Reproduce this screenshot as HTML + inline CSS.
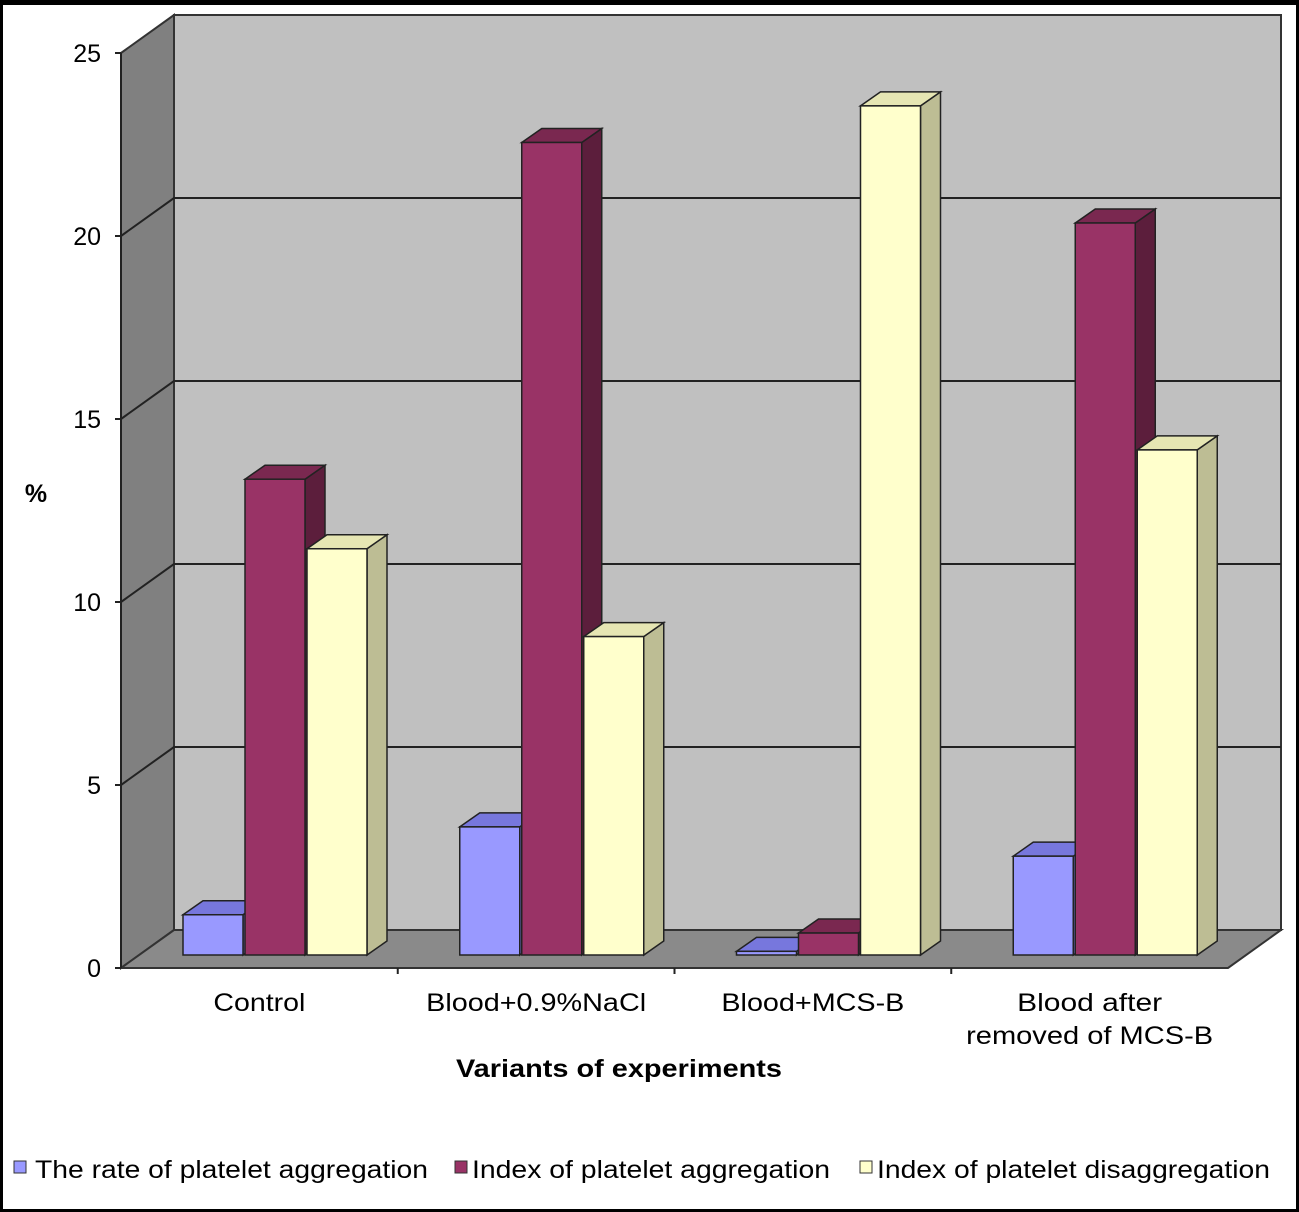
<!DOCTYPE html>
<html><head><meta charset="utf-8"><style>
body{margin:0;background:#fff}
svg{display:block;font-family:"Liberation Sans",sans-serif}
</style></head><body>
<svg width="1299" height="1212" viewBox="0 0 1299 1212">
<rect x="1.5" y="2.5" width="1296" height="1208" fill="#fff" stroke="#000" stroke-width="3"/>
<rect x="0" y="0" width="1299" height="5" fill="#000"/>
<g id="frame"></g>
<g id="bars"></g>
<g id="labels"></g>
<text x="36" y="502" font-size="25" font-weight="bold" text-anchor="middle">%</text>
<text x="456" y="1077" font-size="25" font-weight="bold" textLength="326" lengthAdjust="spacingAndGlyphs">Variants of experiments</text>
<g font-size="25">
 <g><rect x="14" y="1161" width="12" height="12" fill="#9999ff" stroke="#333"/><text x="35" y="1178" textLength="393" lengthAdjust="spacingAndGlyphs">The rate of platelet aggregation</text></g>
 <g><rect x="455" y="1161" width="12" height="12" fill="#993366" stroke="#333"/><text x="472" y="1178" textLength="358" lengthAdjust="spacingAndGlyphs">Index of platelet aggregation</text></g>
 <g><rect x="860" y="1161" width="12" height="12" fill="#ffffcc" stroke="#333"/><text x="877" y="1178" textLength="393" lengthAdjust="spacingAndGlyphs">Index of platelet disaggregation</text></g>
</g>
</svg>
<script>
const categories=["Control","Blood+0.9%NaCl","Blood+MCS-B","Blood after|removed of MCS-B"];
const rateValues=[1.1,3.5,0.1,2.7];
const indexAggValues=[13.0,22.2,0.6,20.0];
const indexDisaggValues=[11.1,8.7,23.2,13.8];
const yTicks=[0,5,10,15,20,25];
const labelWidths=[[92],[220],[183],[145,247]];

const NS="http://www.w3.org/2000/svg";
function mk(tag,attrs,parent){const e=document.createElementNS(NS,tag);for(const k in attrs)e.setAttribute(k,attrs[k]);parent.appendChild(e);return e;}
const X0=121,X1=1228,Y0=968,DX=53,DY=-38,PPU=36.6;
function yFront(v){return Y0-v*PPU;}
const frame=document.getElementById('frame');
let w=mk('polygon',{points:`${X0+DX},${yFront(25)+DY} ${X1+DX},${yFront(25)+DY} ${X1+DX},${Y0+DY} ${X0+DX},${Y0+DY}`,fill:'#c0c0c0',stroke:'#333','stroke-width':2},frame);

let s=mk('polygon',{points:`${X0},${yFront(25)} ${X0+DX},${yFront(25)+DY} ${X0+DX},${Y0+DY} ${X0},${Y0}`,fill:'#808080',stroke:'#333','stroke-width':2},frame);

let f=mk('polygon',{points:`${X0},${Y0} ${X0+DX},${Y0+DY} ${X1+DX},${Y0+DY} ${X1},${Y0}`,fill:'#8a8a8a',stroke:'#333','stroke-width':2},frame);

const labels=document.getElementById('labels');
yTicks.forEach(t=>{
  const y=yFront(t);
  if(t>0&&t<25){let g=mk('polyline',{points:`${X0},${y} ${X0+DX},${y+DY} ${X1+DX},${y+DY}`,fill:'none',stroke:'#222','stroke-width':2},frame);
  }
  mk('line',{x1:X0-6,y1:y,x2:X0,y2:y,stroke:'#222','stroke-width':2},frame);
  let tx=mk('text',{x:X0-20,y:y+9,'font-size':25,'text-anchor':'end'},labels);tx.textContent=t;
  
});
mk('line',{x1:X0,y1:yFront(25),x2:X0,y2:Y0,stroke:'#222','stroke-width':2},frame);
const bars=document.getElementById('bars');
const groupW=(X1-X0)/categories.length;
const series=[{v:rateValues,front:'#9999ff',top:'#7777dd',side:'#6666bb',n:'rate'},
{v:indexAggValues,front:'#993366',top:'#7a2850',side:'#5c1e3c',n:'index-aggregation'},
{v:indexDisaggValues,front:'#ffffcc',top:'#e6e6b3',side:'#bdbd94',n:'index-disaggregation'}];
const BW=60,BGAP=2,BD=20,BDY=-14,BASE=955;
categories.forEach((c,i)=>{
  const gx=X0+i*groupW+62;
  series.forEach((sr,j)=>{
    const x=gx+j*(BW+BGAP),top=BASE-sr.v[i]*PPU;
    const g=mk('g',{},bars);
    
    
    mk('polygon',{points:`${x+BW},${top} ${x+BW+BD},${top+BDY} ${x+BW+BD},${BASE+BDY} ${x+BW},${BASE}`,fill:sr.side,stroke:'#222','stroke-width':1.5},g);
    mk('polygon',{points:`${x},${top} ${x+BD},${top+BDY} ${x+BW+BD},${top+BDY} ${x+BW},${top}`,fill:sr.top,stroke:'#222','stroke-width':1.5},g);
    mk('rect',{x:x,y:top,width:BW,height:BASE-top,fill:sr.front,stroke:'#222','stroke-width':1.5},g);
  });
  if(i>0) mk('line',{x1:X0+i*groupW,y1:Y0,x2:X0+i*groupW,y2:Y0+6,stroke:'#222','stroke-width':2},frame);
  const cx=X0+i*groupW+groupW/2;
  const lines=c.split('|');
  lines.forEach((ln,k)=>{
    let t=mk('text',{x:cx,y:1011+k*33,'font-size':25,'text-anchor':'middle',textLength:labelWidths[i][k],lengthAdjust:'spacingAndGlyphs'},labels);t.textContent=ln;
    
  });
});
</script>
</body></html>
